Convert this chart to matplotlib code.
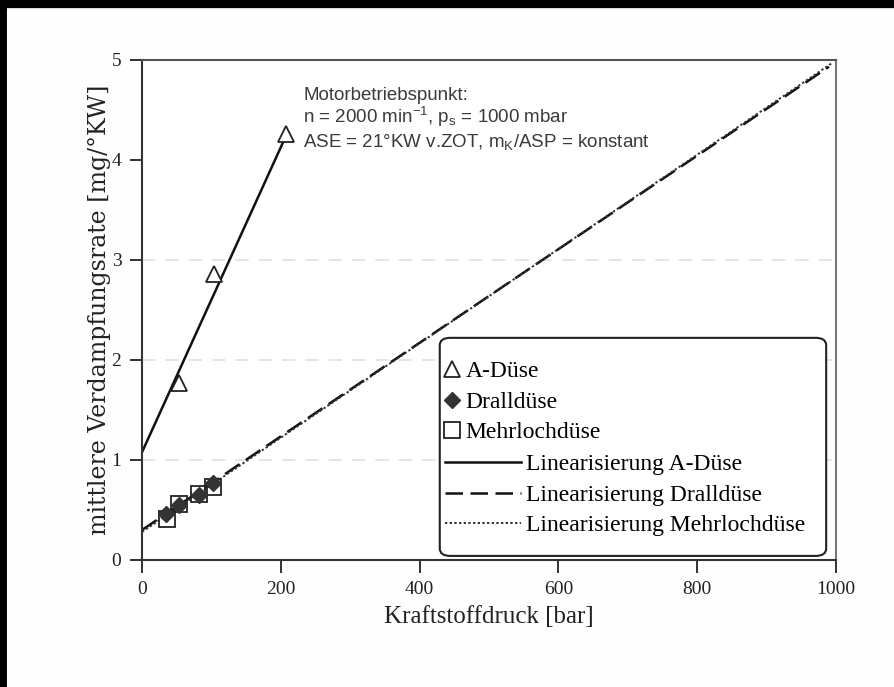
import matplotlib
matplotlib.use("Agg")
import matplotlib.pyplot as plt
from matplotlib.patches import FancyBboxPatch

plt.rcParams['mathtext.fontset'] = 'custom'
plt.rcParams['mathtext.rm'] = 'Liberation Sans'
plt.rcParams['mathtext.it'] = 'Liberation Sans:italic'

# Messpunkte
a_x = [53, 103, 207]
a_y = [1.77, 2.86, 4.26]
drall_x = [35, 53, 82, 102]
drall_y = [0.46, 0.55, 0.65, 0.77]
mehr_x = [36, 53, 82, 102]
mehr_y = [0.41, 0.56, 0.66, 0.73]

# Linearisierungen (Endpunkte)
lin_a_x = [0, 210]
lin_a_y = [1.08, 4.28]
lin_drall_x = [0, 990]
lin_drall_y = [0.30, 4.93]
lin_mehr_x = [0, 995]
lin_mehr_y = [0.28, 4.97]

x_ticks = [0, 200, 400, 600, 800, 1000]
y_ticks = [0, 1, 2, 3, 4, 5]

serif = 'Liberation Serif'
bg_col = '#fefefe'
fig = plt.figure(figsize=(8.94, 6.87), dpi=100, facecolor=bg_col)

# Rahmen der Vorlage (oben und links) ueber eine Hintergrund-Achse
bg = fig.add_axes([0, 0, 1, 1], zorder=-5)
bg.patch.set_alpha(0)
bg.set_xticks([])
bg.set_yticks([])
bg.spines['right'].set_visible(False)
bg.spines['bottom'].set_visible(False)
bg.spines['top'].set_linewidth(11)
bg.spines['left'].set_linewidth(10)

ax = fig.add_axes([0.159, 0.185, 0.776, 0.728])

for y in [1, 2, 3]:
    ax.axhline(y, color='#e0e0e0', lw=1.2, ls=(0, (8, 6)), zorder=0)

l_a, = ax.plot(lin_a_x, lin_a_y, color='#111111', lw=1.8, label='Linearisierung A-Düse')
l_d, = ax.plot(lin_drall_x, lin_drall_y, color='#111111', lw=1.8, ls=(0, (7, 3)),
               label='Linearisierung Dralldüse')
l_m, = ax.plot(lin_mehr_x, lin_mehr_y, color='#333333', lw=1.4, ls=(0, (1.2, 1.2)),
               label='Linearisierung Mehrlochdüse')

m_a, = ax.plot(a_x, a_y, ls='none', marker='^', ms=12, mfc='white', mec='#222222',
               mew=1.3, label='A-Düse')
m_m, = ax.plot(mehr_x, mehr_y, ls='none', marker='s', ms=12, mfc='none', mec='#222222',
               mew=1.3, label='Mehrlochdüse')
m_d, = ax.plot(drall_x, drall_y, ls='none', marker='D', ms=8, mfc='#333333', mec='#333333',
               label='Dralldüse')

ax.set_xlim(0, 1000)
ax.set_ylim(0, 5)
ax.set_xticks(x_ticks)
ax.set_yticks(y_ticks)
ax.tick_params(direction='out', length=9, width=1.3, colors='#222222', labelsize=14, pad=6)
for lab in ax.get_xticklabels() + ax.get_yticklabels():
    lab.set_fontfamily(serif)
for s in ax.spines.values():
    s.set_linewidth(1.5)
    s.set_color('#333333')
ax.spines['top'].set_color('#555555')
ax.spines['right'].set_color('#777777')

ax.set_xlabel('Kraftstoffdruck [bar]', fontsize=18, family=serif, color='#222222', labelpad=6)
ax.set_ylabel('mittlere Verdampfungsrate [mg/°KW]', fontsize=17, family='DejaVu Serif',
              color='#222222', labelpad=0)

txt_kw = dict(transform=ax.transAxes, fontsize=13.5, family='Liberation Sans', color='#3a3a3a')
ax.text(0.232, 0.92, 'Motorbetriebspunkt:', **txt_kw)
ax.text(0.232, 0.873, 'n = 2000 min$^{-1}$, p$_\\mathrm{s}$ = 1000 mbar', **txt_kw)
ax.text(0.232, 0.826, 'ASE = 21°KW v.ZOT, m$_\\mathrm{K}$/ASP = konstant', **txt_kw)

# Legende: Rahmen + zwei Teile
ax.add_patch(FancyBboxPatch((0.429, 0.008), 0.557, 0.436, transform=ax.transAxes,
                            boxstyle='round,pad=0,rounding_size=0.015', fc='white',
                            ec='#222222', lw=1.5, zorder=4))
prop = dict(family=serif, size=17)
leg1 = ax.legend(handles=[m_a, m_d, m_m], loc='upper left', bbox_to_anchor=(0.437, 0.398),
                 frameon=False, handlelength=0.6, handletextpad=0.25, borderpad=0,
                 labelspacing=0.38, prop=prop, borderaxespad=0)
leg1.set_zorder(5)
ax.add_artist(leg1)
leg2 = ax.legend(handles=[l_a, l_d, l_m], loc='upper left', bbox_to_anchor=(0.437, 0.212),
                 frameon=False, handlelength=3.2, handletextpad=0.2, borderpad=0,
                 labelspacing=0.38, prop=prop, borderaxespad=0)
leg2.set_zorder(5)

fig.savefig('out.png', dpi=100, facecolor=bg_col)
